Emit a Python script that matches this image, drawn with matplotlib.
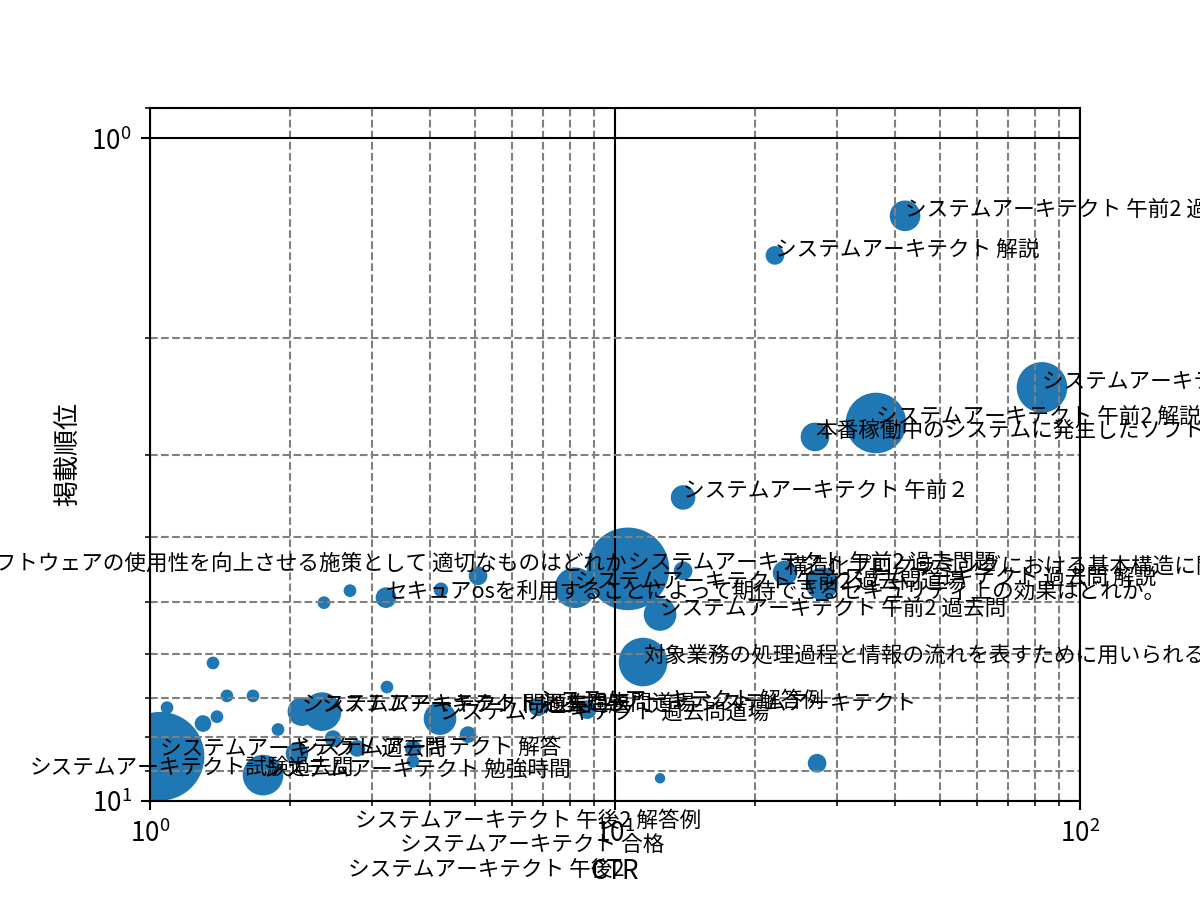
import matplotlib
matplotlib.use("Agg")
import matplotlib.pyplot as plt

plt.rcParams['font.family'] = ['Noto Sans CJK JP', 'DejaVu Sans']
plt.rcParams['mathtext.fontset'] = 'custom'
plt.rcParams['mathtext.rm'] = 'Noto Sans CJK JP'
plt.rcParams['mathtext.it'] = 'Noto Sans CJK JP'

# CTR (%)
ctr = [42.05, 22.08, 82.85, 36.41, 26.92, 14.01, 10.66, 8.20, 12.50, 14.01,
       23.21, 27.87, 5.075, 4.224, 3.217, 2.692, 2.367, 0.4163, 11.49, 1.366,
       1.464, 1.665, 3.233, 1.088, 1.300, 1.393, 1.885, 2.122, 2.344, 4.204,
       6.83, 8.71, 4.83, 2.071, 2.475, 2.788, 3.679, 3.679, 1.051, 1.75,
       0.552, 12.50, 27.2, 2.76, 3.45, 2.666]
# 掲載順位 (average position)
position = [1.309, 1.502, 2.376, 2.689, 2.822, 3.483, 4.464, 4.766, 5.23, 4.494,
            4.525, 4.701, 4.573, 4.80, 4.933, 4.815, 5.02, 4.479, 6.17, 6.19,
            6.94, 6.94, 6.73, 7.23, 7.64, 7.46, 7.80, 7.33, 7.33, 7.51,
            7.21, 7.28, 7.94, 8.48, 8.05, 8.33, 8.33, 8.71, 8.56, 9.14,
            9.11, 9.24, 8.77, 10.93, 11.88, 12.99]
# 表示回数 (bubble size)
impressions = [116, 38, 340, 496, 100, 71, 944, 213, 133, 38,
               71, 133, 38, 21, 48, 15, 15, 60, 312, 15,
               15, 15, 15, 15, 29, 15, 15, 100, 191, 133,
               38, 38, 29, 59, 29, 29, 29, 15, 1091, 213,
               60, 9, 38, 60, 60, 60]
# クエリ
queries = [
    "システムアーキテクト 午前2 過去問 解答",
    "システムアーキテクト 解説",
    "システムアーキテクト 午後1 過去問",
    "システムアーキテクト 午前2 解説",
    "本番稼働中のシステムに発生したソフトウェアの障害のうち、影響が大きいものはどれか。",
    "システムアーキテクト 午前２",
    "システムアーキテクト 午前2 過去問題",
    "システムアーキテクト 午前2 過去問道場",
    "システムアーキテクト 午前2 過去問",
    "",
    "構造化プログラミングにおける基本構造に関する記述として、適切なものはどれか。",
    "システムアーキテクト 過去問 解説",
    "", "",
    "セキュアosを利用することによって期待できるセキュリティ上の効果はどれか。",
    "", "",
    "ソフトウェアの使用性を向上させる施策として 適切なものはどれか",
    "対象業務の処理過程と情報の流れを表すために用いられる図はどれか。",
    "", "", "", "", "", "", "", "",
    "システムアーキテクト 問題集",
    "システムアーキテクト 過去問題",
    "システムアーキテクト 過去問道場",
    "システムアーキテクト 解答例",
    "過去問道場 システムアーキテクト",
    "",
    "システムアーキテクト 解答",
    "", "", "", "",
    "システムアーキテクト 過去問",
    "システムアーキテクト 勉強時間",
    "システムアーキテクト試験過去問",
    "", "",
    "システムアーキテクト 午後2 解答例",
    "システムアーキテクト 合格",
    "システムアーキテクト 午後2",
]

fig = plt.figure(figsize=(6.4, 4.8), dpi=187.5)
ax = fig.add_subplot(111)
ax.scatter(ctr, position, s=impressions, color='#1f77b4')
for xv, yv, q in zip(ctr, position, queries):
    if q:
        ax.text(xv, yv, q, fontsize=8.3)

ax.set_xscale('log')
ax.set_yscale('log')
ax.set_xlim(1, 100)
ax.set_ylim(10, 0.9)
ax.grid(which='major', color='black', linestyle='-')
ax.grid(which='minor', color='gray', linestyle='--')
ax.set_xlabel('CTR')
ax.set_ylabel('掲載順位')

fig.savefig('out.png', dpi=187.5)
